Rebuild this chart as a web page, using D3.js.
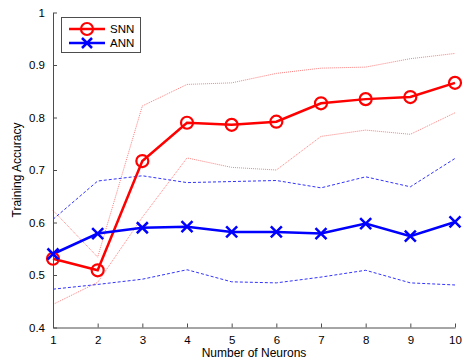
<!DOCTYPE html>
<html>
<head>
<meta charset="utf-8">
<script src="https://cdn.jsdelivr.net/npm/d3@7"></script>
<style>
  body { margin: 0; background: #fff; }
  text { font-family: "Liberation Sans", Arial, sans-serif; }
</style>
</head>
<body>
<svg id="chart" width="465" height="362"></svg>
<script>
// number of neurons
const neurons = [1, 2, 3, 4, 5, 6, 7, 8, 9, 10];
const snnMean  = [0.531, 0.509, 0.717, 0.790, 0.786, 0.792, 0.827, 0.835, 0.839, 0.866];
const snnUpper = [0.623, 0.534, 0.822, 0.863, 0.866, 0.884, 0.894, 0.896, 0.912, 0.922];
const snnLower = [0.444, 0.486, 0.610, 0.723, 0.705, 0.700, 0.764, 0.776, 0.768, 0.809];
const annMean  = [0.540, 0.579, 0.590, 0.592, 0.582, 0.582, 0.579, 0.598, 0.574, 0.601];
const annUpper = [0.606, 0.679, 0.689, 0.676, 0.678, 0.680, 0.666, 0.687, 0.668, 0.722];
const annLower = [0.473, 0.482, 0.492, 0.510, 0.487, 0.485, 0.496, 0.509, 0.485, 0.481];
const yTicks = [0.4, 0.5, 0.6, 0.7, 0.8, 0.9, 1];
const yTickLabels = ["0.4", "0.5", "0.6", "0.7", "0.8", "0.9", "1"];

const svg = d3.select("#chart");
const x = d3.scaleLinear().domain([1, 10]).range([53, 455]);
const y = d3.scaleLinear().domain([0.4, 1]).range([327.5, 12.5]);
const axisCol = "#4d4d4d";

const line = d3.line().x((d, i) => x(neurons[i])).y(d => y(d));

// bounds
svg.append("path").attr("d", line(snnUpper)).attr("fill", "none")
  .attr("stroke", "#ff8080").attr("stroke-width", 1).attr("stroke-dasharray", "1,1");
svg.append("path").attr("d", line(snnLower)).attr("fill", "none")
  .attr("stroke", "#ff8080").attr("stroke-width", 1).attr("stroke-dasharray", "1,1");
svg.append("path").attr("d", line(annUpper)).attr("fill", "none")
  .attr("stroke", "#3333ff").attr("stroke-width", 1).attr("stroke-dasharray", "3,2");
svg.append("path").attr("d", line(annLower)).attr("fill", "none")
  .attr("stroke", "#3333ff").attr("stroke-width", 1).attr("stroke-dasharray", "3,2");

// axes
const xAxis = d3.axisBottom(x).tickValues(neurons).tickSizeInner(-4).tickSizeOuter(0).tickPadding(8);
const yAxis = d3.axisLeft(y).tickValues(yTicks).tickFormat((d, i) => yTickLabels[i])
  .tickSizeInner(-4).tickSizeOuter(0).tickPadding(8);

const gx = svg.append("g").attr("transform", "translate(0,327.5)").call(xAxis);
const gy = svg.append("g").attr("transform", "translate(53,0)").call(yAxis);
[gx, gy].forEach(g => {
  g.select(".domain").attr("stroke", axisCol);
  g.selectAll(".tick line").attr("stroke", axisCol);
  g.selectAll(".tick text").attr("fill", "#000").attr("font-size", 11.5)
    .attr("font-family", "'Liberation Sans', Arial, sans-serif");
});

// mean lines
svg.append("path").attr("d", line(snnMean)).attr("fill", "none")
  .attr("stroke", "#ff0000").attr("stroke-width", 2.5);
svg.append("path").attr("d", line(annMean)).attr("fill", "none")
  .attr("stroke", "#0000ff").attr("stroke-width", 2.5);

svg.selectAll(".snnMark").data(snnMean).enter().append("circle")
  .attr("cx", (d, i) => x(neurons[i])).attr("cy", d => y(d)).attr("r", 6)
  .attr("fill", "none").attr("stroke", "#ff0000").attr("stroke-width", 2.2);

function xMark(g, cx, cy, s) {
  g.append("path").attr("d", `M${cx - s},${cy - s}L${cx + s},${cy + s}M${cx - s},${cy + s}L${cx + s},${cy - s}`)
    .attr("stroke", "#0000ff").attr("stroke-width", 2.5).attr("fill", "none");
}
annMean.forEach((d, i) => xMark(svg, x(neurons[i]), y(d), 5.5));

// labels
svg.append("text").attr("x", 254).attr("y", 357).attr("text-anchor", "middle")
  .attr("font-size", 12).text("Number of Neurons");
svg.append("text").attr("transform", "translate(21,170) rotate(-90)").attr("text-anchor", "middle")
  .attr("font-size", 12).text("Training Accuracy");

// legend
const lg = svg.append("g");
lg.append("rect").attr("x", 61.5).attr("y", 17.5).attr("width", 79).attr("height", 35)
  .attr("fill", "#fff").attr("stroke", axisCol).attr("stroke-width", 1);
lg.append("line").attr("x1", 69).attr("x2", 105).attr("y1", 29).attr("y2", 29)
  .attr("stroke", "#ff0000").attr("stroke-width", 2.5);
lg.append("circle").attr("cx", 87).attr("cy", 29).attr("r", 6)
  .attr("fill", "none").attr("stroke", "#ff0000").attr("stroke-width", 2.2);
lg.append("line").attr("x1", 69).attr("x2", 105).attr("y1", 43).attr("y2", 43)
  .attr("stroke", "#0000ff").attr("stroke-width", 2.5);
xMark(lg, 87, 43, 5);
lg.append("text").attr("x", 110).attr("y", 33).attr("font-size", 11.5).text("SNN");
lg.append("text").attr("x", 110).attr("y", 47).attr("font-size", 11.5).text("ANN");
</script>
</body>
</html>
